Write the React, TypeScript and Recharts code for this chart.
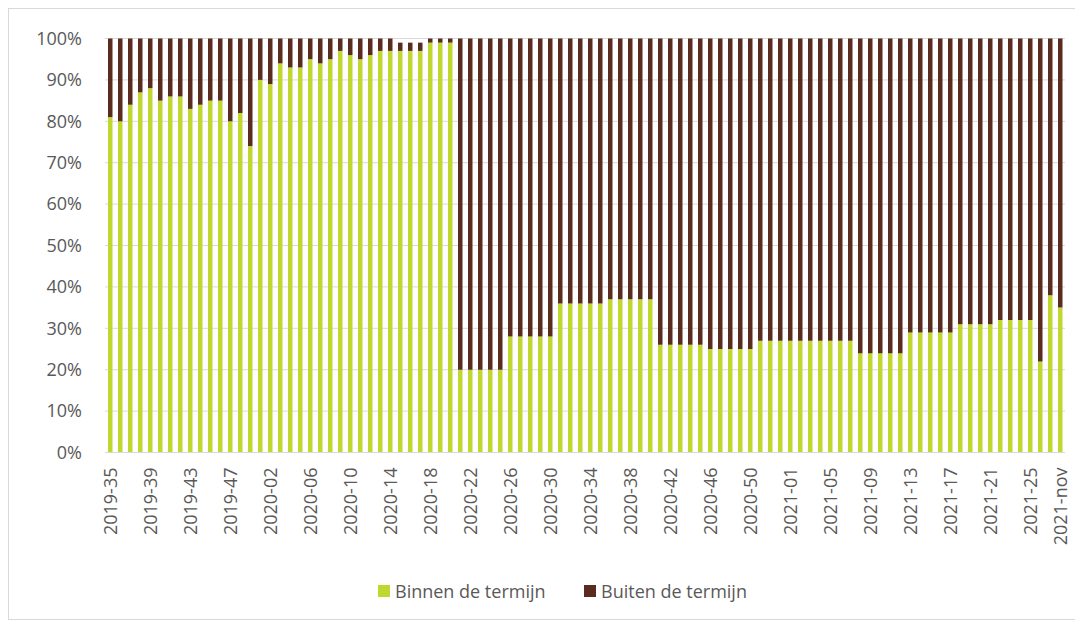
import React from 'react';
import { BarChart, Bar, XAxis, YAxis, CartesianGrid, Legend } from 'recharts';

// week labels, one per bar
const weeks = [
  '2019-35', '2019-36', '2019-37', '2019-38', '2019-39', '2019-40', '2019-41', '2019-42',
  '2019-43', '2019-44', '2019-45', '2019-46', '2019-47', '2019-48', '2019-49', '2019-50',
  '2020-02', '2020-03', '2020-04', '2020-05', '2020-06', '2020-07', '2020-08', '2020-09',
  '2020-10', '2020-11', '2020-12', '2020-13', '2020-14', '2020-15', '2020-16', '2020-17',
  '2020-18', '2020-19', '2020-20', '2020-21', '2020-22', '2020-23', '2020-24', '2020-25',
  '2020-26', '2020-27', '2020-28', '2020-29', '2020-30', '2020-31', '2020-32', '2020-33',
  '2020-34', '2020-35', '2020-36', '2020-37', '2020-38', '2020-39', '2020-40', '2020-41',
  '2020-42', '2020-43', '2020-44', '2020-45', '2020-46', '2020-47', '2020-48', '2020-49',
  '2020-50', '2020-51', '2020-52', '2020-53', '2021-01', '2021-02', '2021-03', '2021-04',
  '2021-05', '2021-06', '2021-07', '2021-08', '2021-09', '2021-10', '2021-11', '2021-12',
  '2021-13', '2021-14', '2021-15', '2021-16', '2021-17', '2021-18', '2021-19', '2021-20',
  '2021-21', '2021-22', '2021-23', '2021-24', '2021-25', '2021-26', '2021-27', '2021-nov',
];

// % afgehandeld binnen de termijn
const binnen = [
  81, 80, 84, 87, 88, 85, 86, 86, 83, 84, 85, 85, 80, 82, 74, 90,
  89, 94, 93, 93, 95, 94, 95, 97, 96, 95, 96, 97, 97, 97, 97, 97,
  99, 99, 99, 20, 20, 20, 20, 20, 28, 28, 28, 28, 28, 36, 36, 36,
  36, 36, 37, 37, 37, 37, 37, 26, 26, 26, 26, 26, 25, 25, 25, 25,
  25, 27, 27, 27, 27, 27, 27, 27, 27, 27, 27, 24, 24, 24, 24, 24,
  29, 29, 29, 29, 29, 31, 31, 31, 31, 32, 32, 32, 32, 22, 38, 35,
];

// % buiten de termijn
const buiten = [
  19, 20, 16, 13, 12, 15, 14, 14, 17, 16, 15, 15, 20, 18, 26, 10,
  11, 6, 7, 7, 5, 6, 5, 3, 4, 5, 4, 3, 3, 2, 2, 2,
  1, 1, 1, 80, 80, 80, 80, 80, 72, 72, 72, 72, 72, 64, 64, 64,
  64, 64, 63, 63, 63, 63, 63, 74, 74, 74, 74, 74, 75, 75, 75, 75,
  75, 73, 73, 73, 73, 73, 73, 73, 73, 73, 73, 76, 76, 76, 76, 76,
  71, 71, 71, 71, 71, 69, 69, 69, 69, 68, 68, 68, 68, 78, 62, 65,
];

const tickLabels = [
  '2019-35', '2019-39', '2019-43', '2019-47', '2020-02', '2020-06', '2020-10', '2020-14',
  '2020-18', '2020-22', '2020-26', '2020-30', '2020-34', '2020-38', '2020-42', '2020-46',
  '2020-50', '2021-01', '2021-05', '2021-09', '2021-13', '2021-17', '2021-21', '2021-25',
  '2021-nov',
];

const yTicks = [0, 10, 20, 30, 40, 50, 60, 70, 80, 90, 100];

const GREEN = '#c0d72f';
const BROWN = '#5a2b1f';
const TEXT = '#595959';
const GRID = '#d9d9d9';
const FONT_SIZE = 18;

const data = weeks.map((week, i) => ({ week, binnen: binnen[i], buiten: buiten[i] }));

function WeekTick({ x, y, payload }: any) {
  if (!tickLabels.includes(payload.value)) return <g />;
  return (
    <text
      transform={`translate(${x},${y + 13}) rotate(-90)`}
      textAnchor="end"
      dominantBaseline="central"
      fill={TEXT}
      fontSize={FONT_SIZE}
    >
      {payload.value}
    </text>
  );
}

function LegendContent() {
  const items = [
    { label: 'Binnen de termijn', color: GREEN },
    { label: 'Buiten de termijn', color: BROWN },
  ];
  return (
    <div style={{ display: 'flex' }}>
      {items.map((it) => (
        <div key={it.label} style={{ display: 'flex', alignItems: 'center', width: 206 }}>
          <span style={{ width: 12, height: 12, background: it.color, marginRight: 5, flexShrink: 0 }} />
          <span style={{ fontSize: FONT_SIZE, color: TEXT, lineHeight: '26px', whiteSpace: 'nowrap' }}>
            {it.label}
          </span>
        </div>
      ))}
    </div>
  );
}

export default function App() {
  return (
    <div
      style={{
        width: 1074,
        height: 610,
        border: `1px solid ${GRID}`,
        fontFamily: '"Open Sans", sans-serif',
        background: '#fff',
      }}
    >
      <BarChart
        width={1074}
        height={610}
        data={data}
        margin={{ top: 29.5, right: 18, bottom: 46.5, left: 0 }}
        barSize={4.5}
      >
        <CartesianGrid vertical={false} stroke={GRID} />
        <XAxis
          dataKey="week"
          interval={0}
          height={120}
          tick={<WeekTick />}
          tickLine={false}
          tickSize={0}
          axisLine={{ stroke: GRID }}
        />
        <YAxis
          width={96}
          domain={[0, 100]}
          ticks={yTicks}
          tickFormatter={(v) => `${v}%`}
          tick={{ fill: TEXT, fontSize: FONT_SIZE }}
          tickLine={false}
          tickSize={0}
          tickMargin={23}
          axisLine={false}
        />
        <Legend
          layout="horizontal"
          verticalAlign="middle"
          align="center"
          content={<LegendContent />}
          wrapperStyle={{ top: 569, left: 369, width: 420 }}
        />
        <Bar dataKey="binnen" stackId="a" fill={GREEN} isAnimationActive={false} />
        <Bar dataKey="buiten" stackId="a" fill={BROWN} isAnimationActive={false} />
      </BarChart>
    </div>
  );
}
